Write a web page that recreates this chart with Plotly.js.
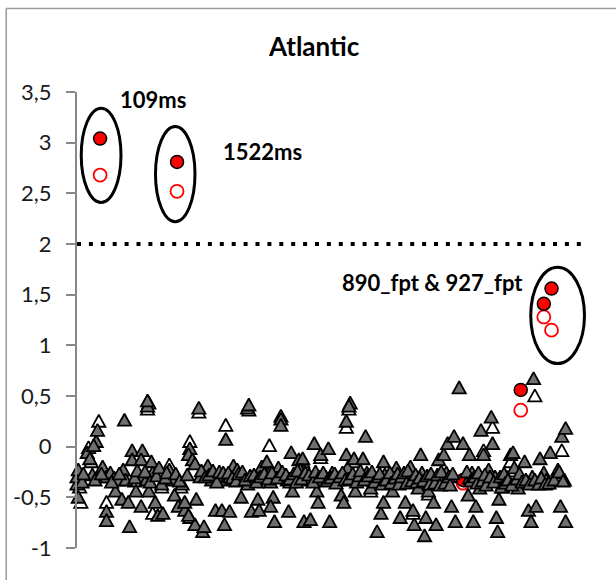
<!DOCTYPE html>
<html>
<head>
<meta charset="utf-8">
<script src="https://cdn.plot.ly/plotly-3.0.1.min.js"></script>
<style>
  html, body { margin: 0; padding: 0; background: #fff; }
  #chart { width: 616px; height: 580px; }
</style>
</head>
<body>
<div id="chart"></div>
<script>
// Per-sample scores (x = sample order, y = score), Atlantic set.
// Filled grey triangles: first score of every sample.
const grayX = [
  1,0,0,1,4,8,10,15,16,13,12,17,20,23,26,29,23,23,32,30,35,37,41,36,38,40,43,43,
  51,50,55,55,46,49,50,54,58,59,56,61,66,63,67,72,75,76,79,82,84,88,87,90,92,95,92,93,98,99,87,84,
  102,105,107,110,113,116,119,116,108,113,119,115,122,125,127,130,133,128,133,134,136,141,142,144,148,150,151,153,154,151,
  159,159,157,161,164,167,165,168,173,176,174,179,182,177,182,185,187,188,190,191,194,196,197,199,203,206,210,210,213,212,211,214,216,217,208,
  225,223,226,229,231,234,237,239,239,240,243,246,249,252,254,256,259,260,262,263,266,268,269,271,272,274,277,278,
  280,282,285,286,288,289,292,294,295,298,301,306,305,306,308,309,311,314,315,317,320,321,323,324,326,327,328,329,332,335,338,
  340,341,344,349,352,354,355,358,356,361,364,366,369,375,377,378,381,381,380,
  5,14,19,27,33,45,47,53,57,62,64,69,70,77,80,86,96,97,100,103,106,109,111,114,118,121,124,126,129,131,135,138,140,143,146,149,152,156,160,163,166,169,171,172,175,178,181,184,186,189,192,195,198,201,202,205,207,209,212,215,218,220,221,224,227,230,232,235,236,238,241,244,245,248,250,251,253,255,257,258,261,264,265,267,270,273,275,276,279,281,283,284,287,290,291,293,304,307,310,312,313,316,318,319,322,325,330,331,333,334,336,339,343,345,347,350,353,357,360,362,365,368,372,376,379
];
const grayY = [
  -0.50,-0.37,-0.30,-0.23,-0.35,-0.06,-0.12,0.05,0.16,0.01,-0.28,-0.30,-0.20,-0.30,-0.26,-0.31,-0.64,-0.73,-0.33,-0.44,-0.52,0.26,-0.79,-0.23,-0.33,-0.55,-0.04,-0.13,
  -0.04,-0.13,0.40,0.45,-0.44,-0.30,-0.59,-0.33,-0.15,-0.26,-0.44,-0.55,-0.37,-0.68,-0.66,-0.23,-0.33,-0.48,-0.59,-0.37,-0.63,-0.02,-0.08,-0.13,-0.17,0.38,-0.77,-0.52,-0.84,-0.79,-0.68,-0.55,
  -0.19,-0.33,-0.30,-0.28,-0.30,-0.33,-0.30,0.07,-0.63,-0.63,-0.64,-0.77,-0.19,-0.23,-0.33,-0.30,-0.37,-0.50,0.38,0.41,-0.64,-0.52,-0.63,-0.20,-0.15,-0.26,-0.35,-0.50,-0.74,-0.59,
  0.27,0.21,-0.21,-0.30,-0.33,-0.06,-0.64,-0.44,-0.13,-0.12,-0.23,-0.30,-0.33,-0.74,-0.72,0.03,-0.44,-0.55,-0.08,-0.33,-0.30,-0.02,-0.74,-0.26,-0.33,-0.48,0.25,-0.08,0.43,0.40,-0.21,-0.30,-0.12,-0.44,-0.55,
  0.10,-0.12,-0.26,-0.41,-0.33,-0.84,-0.66,-0.55,-0.15,-0.28,-0.30,-0.44,-0.21,-0.70,-0.33,-0.55,-0.30,-0.20,-0.63,-0.77,-0.41,-0.08,-0.26,-0.88,-0.70,-0.44,-0.33,-0.55,
  -0.77,-0.13,-0.33,-0.08,-0.26,0.03,-0.59,0.10,-0.74,0.58,0.03,-0.31,-0.48,-0.08,-0.26,-0.74,-0.59,-0.41,0.16,-0.08,-0.33,-0.23,0.29,0.03,-0.30,-0.70,-0.84,-0.52,-0.37,-0.30,-0.08,
  -0.06,-0.21,-0.41,-0.15,-0.63,-0.74,-0.30,-0.59,0.67,-0.12,-0.26,-0.33,-0.06,-0.23,-0.59,0.10,0.18,-0.74,-0.33,
  -0.27,-0.33,-0.27,-0.35,-0.27,-0.31,-0.24,-0.25,-0.35,-0.29,-0.21,-0.31,-0.26,-0.27,-0.34,-0.28,-0.30,-0.24,-0.30,-0.28,-0.24,-0.35,-0.25,-0.26,-0.26,-0.31,-0.34,-0.27,-0.25,-0.33,-0.29,-0.28,-0.35,-0.30,-0.27,-0.32,-0.26,-0.31,-0.25,-0.28,-0.32,-0.27,-0.35,-0.24,-0.32,-0.26,-0.28,-0.35,-0.25,-0.30,-0.26,-0.34,-0.31,-0.27,-0.36,-0.30,-0.26,-0.33,-0.32,-0.27,-0.35,-0.29,-0.24,-0.33,-0.29,-0.25,-0.35,-0.30,-0.27,-0.37,-0.33,-0.26,-0.36,-0.31,-0.27,-0.37,-0.30,-0.26,-0.36,-0.24,-0.34,-0.28,-0.35,-0.31,-0.34,-0.29,-0.37,-0.27,-0.36,-0.28,-0.38,-0.25,-0.36,-0.30,-0.38,-0.27,-0.25,-0.34,-0.30,-0.36,-0.26,-0.34,-0.28,-0.38,-0.30,-0.35,-0.30,-0.40,-0.27,-0.36,-0.33,-0.38,-0.32,-0.27,-0.35,-0.33,-0.37,-0.33,-0.37,-0.31,-0.37,-0.36,-0.33,-0.25,-0.34
];

// Open white triangles: second score of every sample.
const whiteX = [
  3,9,17,23,56,59,72,88,95,116,134,150,159,210,212,317,324,338,357,364,378,55,
  2,11,26,45,66,81,88,102,122,135,148,166,176,190,199,216,229,249,262,274,288,308,321,332,341,355,366,375
];
const whiteY = [
  -0.55,-0.01,0.25,-0.55,0.43,-0.66,-0.18,0.05,0.34,0.21,0.36,0.01,0.30,0.19,0.37,-0.04,0.19,-0.15,0.50,-0.33,-0.04,0.37,
  -0.40,-0.15,-0.29,-0.34,-0.40,-0.40,-0.70,-0.22,-0.22,-0.32,-0.18,-0.35,-0.15,-0.11,-0.29,-0.15,-0.44,-0.24,-0.66,-0.47,-0.29,-0.29,-0.26,-0.40,-0.24,-0.33,-0.36,-0.26
];

// Highlighted samples (red): filled = first score, open = second score.
const redX = [18,78,346,364,370,158,301];
const redY = [3.04,2.81,0.56,1.41,1.56,-0.30,-0.33];
const redOpenX = [18,78,346,364,370,301];
const redOpenY = [2.68,2.52,0.36,1.28,1.15,-0.36];

// Y axis ticks (decimal comma, hyphen minus)
const yTickVals = [-1,-0.5,0,0.5,1,1.5,2,2.5,3,3.5];
const yTickText = ['-1','-0,5','0','0,5','1','1,5','2','2,5','3','3,5'];

// Threshold drawn as a dotted line
const threshold = 2;

const FONT = 'Lato, "Open Sans", sans-serif';

function tri(x, y, fill) {
  return {
    type: 'scatter', mode: 'markers', x: x, y: y, cliponaxis: false,
    hoverinfo: 'skip', showlegend: false,
    marker: { symbol: 'triangle-up', size: 13, color: fill, line: { color: '#000', width: 1.8 } }
  };
}

const traces = [
  tri(whiteX, whiteY, '#ffffff'),
  { type: 'scatter', mode: 'markers', x: redOpenX, y: redOpenY, cliponaxis: false, showlegend: false,
    marker: { symbol: 'circle', size: 13, color: '#ffffff', line: { color: '#ff0000', width: 1.8 } } },
  { type: 'scatter', mode: 'markers', x: redX, y: redY, cliponaxis: false, showlegend: false,
    marker: { symbol: 'circle', size: 13, color: '#ff0000', line: { color: '#000', width: 1.5 } } },
  tri(grayX, grayY, '#6f6f6f')
];

const ellipse = (x0, x1, y0, y1) => ({
  type: 'circle', xref: 'x', yref: 'y', x0: x0, x1: x1, y0: y0, y1: y1,
  line: { color: '#000', width: 3 }
});

const labelFont = { family: FONT, size: 22, color: '#000' };

const layout = {
  width: 616, height: 580,
  margin: { l: 77, r: 26, t: 92, b: 32 },
  paper_bgcolor: '#fff', plot_bgcolor: '#fff',
  separators: ', ',
  font: { family: FONT, color: '#000' },
  title: {
    text: '<b>Atlantic</b>', font: { family: FONT, size: 26, color: '#000' },
    xref: 'container', x: 0.51, xanchor: 'center',
    yref: 'container', y: 0.919, yanchor: 'middle'
  },
  xaxis: { range: [0, 400], visible: false, fixedrange: true },
  yaxis: {
    range: [-1, 3.5], tickmode: 'array', tickvals: yTickVals, ticktext: yTickText,
    showgrid: false, zeroline: false, showline: true, linecolor: '#878787', linewidth: 2,
    ticks: 'outside', ticklen: 9, tickwidth: 2, tickcolor: '#878787',
    ticklabelstandoff: 10,
    tickfont: { family: FONT, size: 22, color: '#1a1a1a' }, fixedrange: true
  },
  shapes: [
    // chart frame
    { type: 'line', xref: 'paper', yref: 'paper', x0: -0.138, x1: -0.138, y0: -0.1, y1: 1.183,
      line: { color: '#9a9a9a', width: 1.5 } },
    { type: 'line', xref: 'paper', yref: 'paper', x0: -0.138, x1: 1.1, y0: 1.183, y1: 1.183,
      line: { color: '#9a9a9a', width: 1.5 } },
    // threshold
    { type: 'line', xref: 'paper', yref: 'y', x0: 0, x1: 0.995, y0: threshold, y1: threshold,
      line: { color: '#000', width: 4, dash: '4px,7.9px' } },
    ellipse(3.3, 34.3, 2.41, 3.34),
    ellipse(61.2, 92.0, 2.22, 3.16),
    ellipse(353.8, 395.7, 0.82, 1.77)
  ],
  annotations: [
    { text: '<b>109ms</b>', x: 59.4, y: 3.43, xref: 'x', yref: 'y', showarrow: false, font: labelFont },
    { text: '<b>1522ms</b>', x: 144.3, y: 2.91, xref: 'x', yref: 'y', showarrow: false, font: labelFont },
    { text: '<b>890_fpt &amp; 927_fpt</b>', x: 277, y: 1.62, xref: 'x', yref: 'y', showarrow: false, font: labelFont }
  ]
};

// Triangles drawn as near-equilateral glyphs centred on their point
const TRI_PATH = 'M-6.6,5.4H6.6L0,-6.6Z';

Plotly.newPlot('chart', traces, layout, { staticPlot: true, displayModeBar: false }).then(function (gd) {
  gd.querySelectorAll('.scatterlayer .trace').forEach(function (tr, i) {
    if (i === 0 || i === 3) {
      tr.querySelectorAll('path.point').forEach(function (p) { p.setAttribute('d', TRI_PATH); });
    }
  });
});
</script>
</body>
</html>
